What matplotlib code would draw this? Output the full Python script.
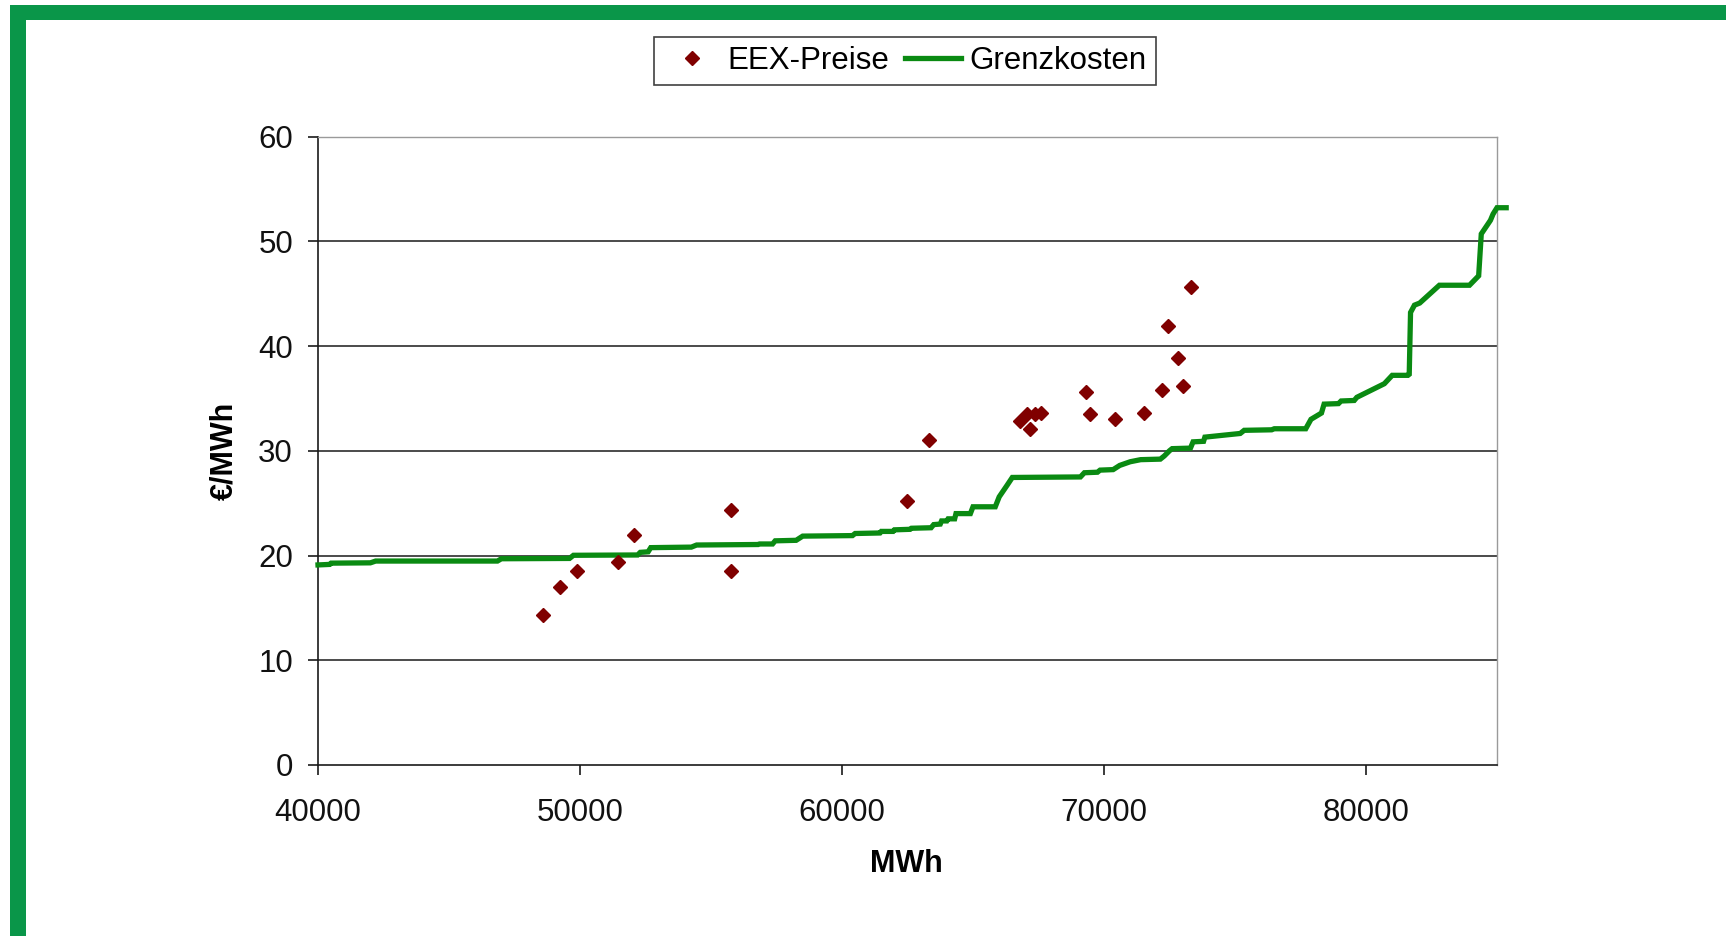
import matplotlib
matplotlib.use("Agg")
import matplotlib.pyplot as plt
from matplotlib.patches import Rectangle
from matplotlib.lines import Line2D

plt.rcParams['font.family'] = ['Liberation Sans', 'DejaVu Sans']

# ---- data ----
eex_x = [48600, 49220, 49880, 51450, 52050, 55770, 55770, 62480, 63330,
         66790, 67050, 67180, 67350, 67590, 69300, 69450, 70420, 71530,
         72220, 72440, 72810, 73030, 73320]
eex_y = [14.3, 17.0, 18.5, 19.4, 22.0, 24.3, 18.5, 25.2, 31.0,
         32.8, 33.5, 32.1, 33.5, 33.6, 35.6, 33.5, 33.0, 33.6,
         35.8, 41.9, 38.9, 36.2, 45.6]

grenz_x = [40000, 40450, 40500, 42000, 42200, 46850, 47000, 49600, 49750, 52200,
           52300, 52600, 52700, 54250, 54450, 56800, 56850, 57350, 57450, 58250,
           58500, 60400, 60500, 61450, 61500, 61950, 62000, 62600, 62650, 63400,
           63500, 63750, 63800, 64000, 64050, 64300, 64350, 64900, 65000, 65850,
           66000, 66300, 66500, 69100, 69250, 69750, 69850, 70350, 70600, 71000,
           71400, 72150, 72300, 72500, 72600, 73300, 73400, 73800, 73850, 75200,
           75350, 76400, 76500, 77700, 77900, 78300, 78400, 78950, 79050, 79550,
           79650, 80700, 81000, 81600, 81650, 81700, 81850, 82050, 82800, 83950,
           84300, 84400, 84750, 84850, 85000, 85350]
grenz_y = [19.1, 19.15, 19.27, 19.3, 19.47, 19.47, 19.69, 19.72, 20.02, 20.05,
           20.3, 20.35, 20.75, 20.8, 21.0, 21.05, 21.1, 21.1, 21.4, 21.45,
           21.85, 21.9, 22.1, 22.15, 22.3, 22.3, 22.45, 22.5, 22.6, 22.65,
           22.95, 23.0, 23.3, 23.3, 23.5, 23.5, 24.0, 24.0, 24.65, 24.65,
           25.6, 26.7, 27.45, 27.5, 27.9, 27.95, 28.15, 28.2, 28.6, 28.95,
           29.15, 29.2, 29.5, 30.0, 30.2, 30.25, 30.85, 30.9, 31.3, 31.65,
           31.95, 32.0, 32.1, 32.1, 33.0, 33.6, 34.45, 34.5, 34.75, 34.8,
           35.1, 36.4, 37.2, 37.2, 37.3, 43.2, 43.9, 44.1, 45.8, 45.8,
           46.7, 50.7, 52.0, 52.6, 53.2, 53.2]

x_ticks = [40000, 50000, 60000, 70000, 80000]
y_ticks = [0, 10, 20, 30, 40, 50, 60]

W, H = 1726, 936
fig = plt.figure(figsize=(W / 100, H / 100), dpi=100)
fig.patch.set_facecolor('white')

# green frame (top and left bands)
border = '#0a9649'
fig.patches.append(Rectangle((10 / W, 1 - 20 / H), 1 - 10 / W, 15 / H,
                             transform=fig.transFigure, facecolor=border,
                             edgecolor='none', zorder=0))
fig.patches.append(Rectangle((10 / W, 0), 16 / W, 1 - 5 / H,
                             transform=fig.transFigure, facecolor=border,
                             edgecolor='none', zorder=0))

ax = fig.add_axes([318 / W, 1 - 765 / H, (1497 - 318) / W, (765 - 136.5) / H])
ax.set_xlim(40000, 85000)
ax.set_ylim(0, 60)
ax.set_xticks(x_ticks)
ax.set_yticks(y_ticks)
ax.set_xticklabels([str(v) for v in x_ticks])
ax.set_yticklabels([str(v) for v in y_ticks])

for yv in y_ticks[1:-1]:
    ax.axhline(yv, color='#1a1a1a', lw=1.1, zorder=1)

for s in ['top', 'right']:
    ax.spines[s].set_color('#9a9a9a')
    ax.spines[s].set_linewidth(1.0)
for s in ['left', 'bottom']:
    ax.spines[s].set_color('#1a1a1a')
    ax.spines[s].set_linewidth(1.2)

ax.tick_params(axis='both', direction='out', length=7, width=1.2,
               color='#1a1a1a', labelsize=22.5, labelcolor='#111111')
ax.tick_params(axis='y', pad=11)
ax.tick_params(axis='x', pad=17)

ax.plot(grenz_x, grenz_y, color='#0a8a12', lw=3.8, zorder=3, clip_on=False,
        solid_joinstyle='miter')
ax.plot(eex_x, eex_y, linestyle='none', marker='D', markersize=7.4,
        color='#800000', markeredgecolor='#800000', zorder=4)

ax.set_xlabel('MWh', fontsize=22, fontweight='bold')
ax.set_ylabel('€/MWh', fontsize=22, fontweight='bold')
ax.xaxis.set_label_coords(0.499, -0.134)
ax.yaxis.set_label_coords(-0.067, 0.5)

handles = [Line2D([], [], linestyle='none', marker='D', markersize=7.4,
                  color='#800000'),
           Line2D([], [], color='#0a8a12', lw=3.8)]
leg = fig.legend(handles, ['EEX-Preise', 'Grenzkosten'], loc='center',
                 bbox_to_anchor=(905 / W, 1 - 61 / H), ncol=2,
                 fontsize=22.5, frameon=True, fancybox=False,
                 handlelength=1.8, handletextpad=0.25, columnspacing=0.5,
                 borderpad=0.3, edgecolor='#111111')
leg.get_frame().set_linewidth(1.2)

fig.savefig('out.png', dpi=100, facecolor='white')
